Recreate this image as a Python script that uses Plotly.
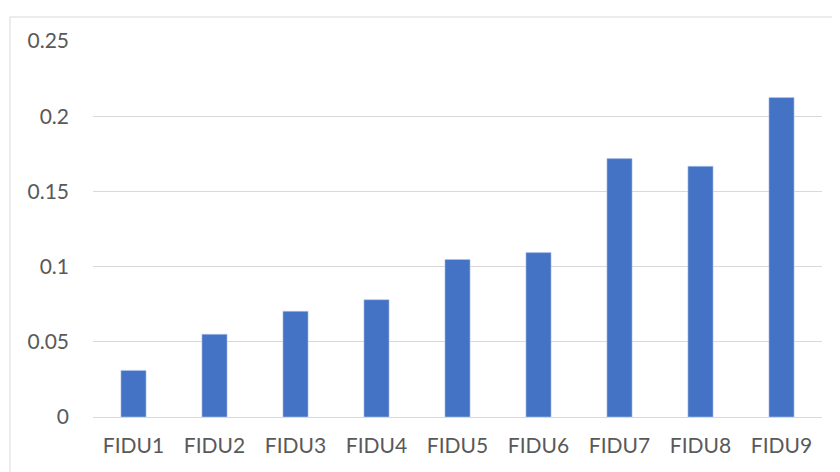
import plotly.graph_objects as go

categories = ["FIDU1", "FIDU2", "FIDU3", "FIDU4", "FIDU5", "FIDU6", "FIDU7", "FIDU8", "FIDU9"]
values = [0.031, 0.055, 0.0703, 0.078, 0.1047, 0.1093, 0.1718, 0.1667, 0.2124]
y_ticks = [0, 0.05, 0.1, 0.15, 0.2, 0.25]
y_tick_labels = ["0", "0.05", "0.1", "0.15", "0.2", "0.25"]

# page body has an 8px default margin; figure coordinates compensate for it
W, H = 840, 472
L, R, T, B = 85, 26, 33, 63
pw, ph = W - L - R, H - T - B

fig = go.Figure(go.Bar(
    x=categories, y=values,
    marker=dict(color="#4472C4", line=dict(color="#B4C7E7", width=0.6)),
))

fig.update_layout(
    width=W, height=H,
    margin=dict(l=L, r=R, t=T, b=B),
    paper_bgcolor="white", plot_bgcolor="white",
    bargap=0.69,
    showlegend=False,
    font=dict(family="Lato, 'Open Sans', sans-serif", size=21, color="#595959"),
    xaxis=dict(showgrid=False, showline=False, ticks="", ticklabelstandoff=14,
               tickfont=dict(size=21, color="#595959")),
    yaxis=dict(range=[0, 0.25], tickvals=y_ticks, ticktext=y_tick_labels,
               showgrid=True, gridcolor="#D9D9D9", gridwidth=1,
               zeroline=True, zerolinecolor="#D9D9D9", zerolinewidth=1,
               showline=False, ticks="", ticklabelstandoff=23,
               tickfont=dict(size=21, color="#595959")),
    shapes=[dict(type="rect", xref="paper", yref="paper",
                 x0=(2 - L) / pw, x1=(860 - L) / pw,
                 y0=(H - B - 490) / ph, y1=(H - B - 9) / ph,
                 line=dict(color="#D9D9D9", width=1), fillcolor="rgba(0,0,0,0)",
                 layer="below")],
)

fig.write_html("out.html")
